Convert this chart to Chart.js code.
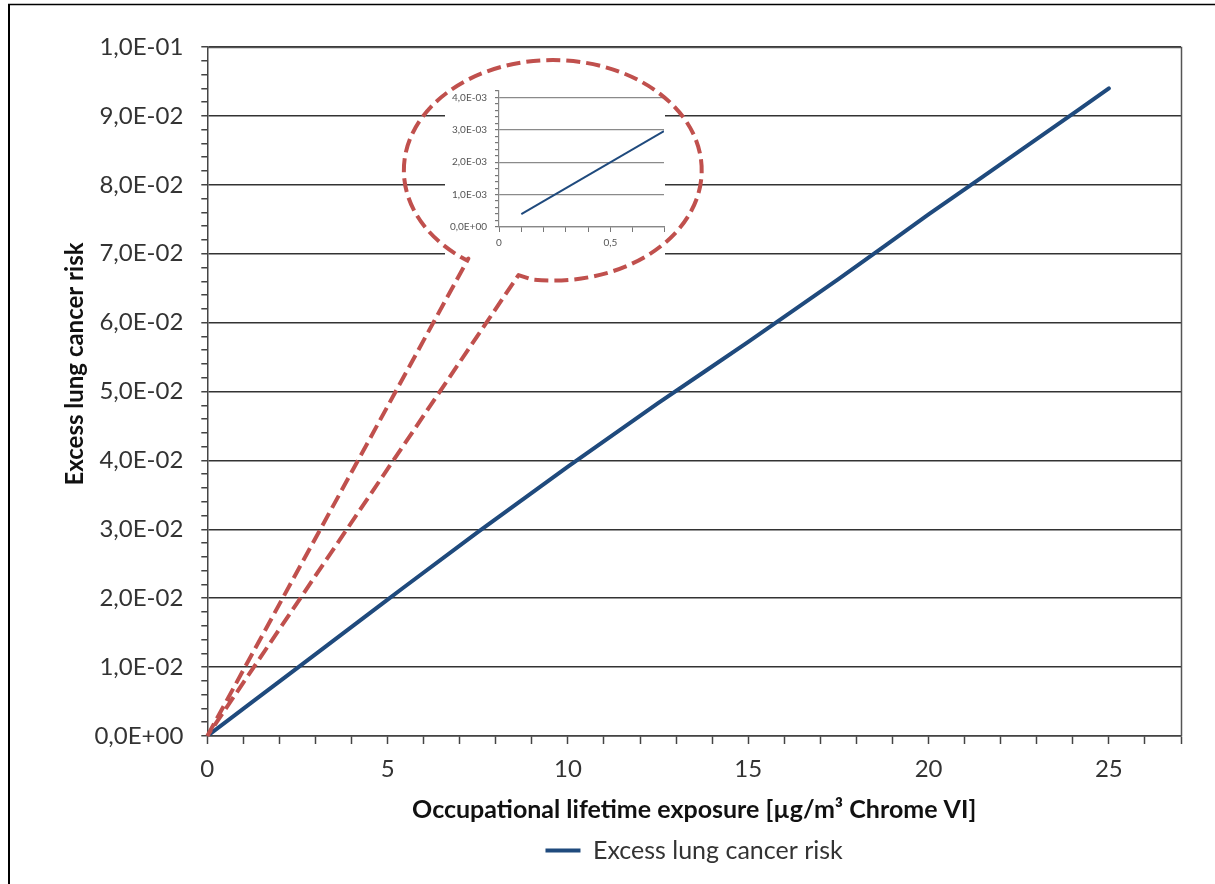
<!DOCTYPE html>
<html>
<head>
<meta charset="utf-8">
<script src="https://cdn.jsdelivr.net/npm/chart.js@4.4.1/dist/chart.umd.min.js"></script>
<style>
  html, body { margin: 0; padding: 0; background: #fff; }
  #wrap { position: relative; width: 1215px; height: 884px; }
  #wrap canvas { position: absolute; left: 0; top: 0; }
</style>
</head>
<body>
<div id="wrap">
  <canvas id="main" width="1215" height="884"></canvas>
  <canvas id="zoom" width="1215" height="884"></canvas>
</div>
<script>
// Excess lung cancer risk vs. occupational lifetime exposure to Cr(VI)
const exposure = [0, 2.5, 5, 7.5, 10, 12.5, 15, 17.5, 20, 22.5, 25];
const risk = [0, 0.0099, 0.0198, 0.0296, 0.0391, 0.0483, 0.0572, 0.0663, 0.0757, 0.0848, 0.0940];

const xTickLabels = ['0', '5', '10', '15', '20', '25'];
const yTickLabels = ['0,0E+00', '1,0E-02', '2,0E-02', '3,0E-02', '4,0E-02', '5,0E-02',
                     '6,0E-02', '7,0E-02', '8,0E-02', '9,0E-02', '1,0E-01'];

// Low-exposure detail shown in the callout
const zoomExposure = [0.1, 0.74];
const zoomRisk = [0.0004, 0.00296];
const zoomXTickLabels = ['0', '0,5'];
const zoomYTickLabels = ['0,0E+00', '1,0E-03', '2,0E-03', '3,0E-03', '4,0E-03'];

const seriesName = 'Excess lung cancer risk';
const xTitle = 'Occupational lifetime exposure [µg/m³ Chrome VI]';
const yTitle = 'Excess lung cancer risk';

const BLUE = '#1f4a7d';
const RED = '#c0504d';
const FONT = 'Lato, "Open Sans", sans-serif';

// Callout bubble, in data units of the main chart
const callout = {
  cx: 9.58, cy: 0.0821, rx: 4.13, ry: 0.0160,
  startAngle: 125.3, endAngle: 98,
  leftCorner: { x: 7.24, y: 0.0693 },
  rightCorner: { x: 8.63, y: 0.0669 }
};

function majorIndex(v, step) {
  const r = v / step;
  const n = Math.round(r);
  return Math.abs(r - n) < 1e-6 ? n : -1;
}

Chart.defaults.font.family = FONT;
Chart.defaults.color = '#333';

const framePlugin = {
  id: 'frame',
  beforeDraw(chart) {
    const ctx = chart.ctx;
    ctx.save();
    ctx.fillStyle = '#fff';
    ctx.fillRect(0, 0, chart.width, chart.height);
    ctx.strokeStyle = '#000';
    ctx.lineWidth = 1.5;
    ctx.beginPath();
    ctx.moveTo(8, 4.5);
    ctx.lineTo(chart.width, 4.5);
    ctx.stroke();
    ctx.lineWidth = 2;
    ctx.beginPath();
    ctx.moveTo(9, 4);
    ctx.lineTo(9, chart.height);
    ctx.stroke();
    ctx.restore();
  },
  beforeDatasetsDraw(chart) {
    const { ctx, chartArea: a } = chart;
    ctx.save();
    ctx.strokeStyle = '#555';
    ctx.lineWidth = 1.5;
    ctx.beginPath();
    ctx.moveTo(a.left, Math.round(a.top) + 0.5);
    ctx.lineTo(Math.round(a.right) + 0.5, Math.round(a.top) + 0.5);
    ctx.lineTo(Math.round(a.right) + 0.5, a.bottom);
    ctx.stroke();
    ctx.restore();
  },
  afterDraw(chart) {
    const ctx = chart.ctx;
    ctx.save();
    ctx.translate(75, 364);
    ctx.rotate(-Math.PI / 2);
    ctx.font = 'bold 24px ' + FONT;
    ctx.fillStyle = '#111';
    ctx.textAlign = 'center';
    ctx.textBaseline = 'middle';
    ctx.fillText(yTitle, 0, 0);
    ctx.restore();
  }
};

const main = new Chart(document.getElementById('main'), {
  type: 'line',
  data: {
    datasets: [{
      label: seriesName,
      data: exposure.map((x, i) => ({ x, y: risk[i] })),
      borderColor: BLUE,
      backgroundColor: BLUE,
      borderWidth: 4,
      pointRadius: 0,
      borderCapStyle: 'round',
      cubicInterpolationMode: 'monotone'
    }]
  },
  options: {
    responsive: false,
    animation: false,
    devicePixelRatio: 1,
    events: [],
    layout: { padding: { left: 10, top: 47, right: 34, bottom: 11 } },
    plugins: {
      tooltip: { enabled: false },
      legend: {
        position: 'bottom',
        fullSize: false,
        labels: {
          boxWidth: 35,
          boxHeight: 4,
          padding: 10,
          font: { size: 25 },
          color: '#333',
          generateLabels: () => [{
            text: seriesName, fillStyle: BLUE, strokeStyle: BLUE, lineWidth: 0,
            hidden: false, datasetIndex: 0, fontColor: '#333'
          }]
        }
      }
    },
    scales: {
      x: {
        type: 'linear',
        min: 0,
        max: 27,
        afterFit: s => { s.height = 92; },
        ticks: {
          stepSize: 1,
          autoSkip: false,
          maxRotation: 0,
          padding: 11,
          font: { size: 24 },
          color: '#333',
          callback: v => { const i = majorIndex(v, 5); return i >= 0 ? xTickLabels[i] : ''; }
        },
        grid: { drawOnChartArea: false, tickLength: 8, tickColor: '#444', tickWidth: 1.5 },
        border: { color: '#444', width: 1.5 },
        title: {
          display: true, text: xTitle, color: '#111',
          font: { size: 25, weight: 'bold' },
          padding: { top: 0, bottom: 3 }
        }
      },
      y: {
        type: 'linear',
        min: 0,
        max: 0.1,
        afterFit: s => { s.width = 197.3; },
        ticks: {
          stepSize: 0.002,
          maxTicksLimit: 1000,
          autoSkip: false,
          padding: 18,
          font: { size: 24 },
          color: '#333',
          callback: v => { const i = majorIndex(v, 0.01); return i >= 0 ? yTickLabels[i] : ''; }
        },
        grid: {
          color: c => (c.tick && majorIndex(c.tick.value, 0.01) >= 0) ? '#333' : 'rgba(0,0,0,0)',
          lineWidth: 1.5,
          tickLength: 6,
          tickColor: '#444',
          tickWidth: 1.5
        },
        border: { color: '#444', width: 1.5 }
      }
    }
  },
  plugins: [framePlugin]
});

const insetPlugin = {
  id: 'insetBackdrop',
  beforeDraw(chart) {
    const ctx = chart.ctx;
    ctx.save();
    ctx.fillStyle = '#fff';
    ctx.fillRect(445, 78, 220, 181);
    ctx.restore();
  },
  afterDraw(chart) {
    const ctx = chart.ctx;
    const xs = main.scales.x, ys = main.scales.y;
    const px = v => xs.getPixelForValue(v);
    const py = v => ys.getPixelForValue(v);
    const cx = px(callout.cx), cy = py(callout.cy);
    const rx = px(callout.cx + callout.rx) - cx;
    const ry = py(callout.cy) - py(callout.cy + callout.ry);
    const rad = d => d * Math.PI / 180;
    ctx.save();
    ctx.strokeStyle = RED;
    ctx.lineWidth = 4;
    ctx.setLineDash([14, 6]);
    ctx.lineJoin = 'round';
    ctx.beginPath();
    ctx.moveTo(px(0), py(0));
    ctx.lineTo(px(callout.leftCorner.x), py(callout.leftCorner.y));
    ctx.ellipse(cx, cy, rx, ry, 0, rad(callout.startAngle), rad(callout.endAngle + 360), false);
    ctx.lineTo(px(callout.rightCorner.x), py(callout.rightCorner.y));
    ctx.lineTo(px(0), py(0));
    ctx.stroke();
    ctx.restore();
  }
};

const inset = new Chart(document.getElementById('zoom'), {
  type: 'line',
  data: {
    datasets: [{
      data: zoomExposure.map((x, i) => ({ x, y: zoomRisk[i] })),
      borderColor: BLUE,
      borderWidth: 2,
      pointRadius: 0
    }]
  },
  options: {
    responsive: false,
    animation: false,
    devicePixelRatio: 1,
    events: [],
    layout: { padding: { left: 445, top: 91, right: 551, bottom: 626 } },
    plugins: { legend: { display: false }, tooltip: { enabled: false } },
    scales: {
      x: {
        type: 'linear',
        min: 0,
        max: 0.74,
        afterFit: s => { s.height = 31; },
        ticks: {
          stepSize: 0.1,
          autoSkip: false,
          maxRotation: 0,
          padding: 5,
          font: { size: 10 },
          color: '#555',
          callback: v => { const i = majorIndex(v, 0.5); return i >= 0 ? zoomXTickLabels[i] : ''; }
        },
        grid: { drawOnChartArea: false, tickLength: 5, tickColor: '#777' },
        border: { color: '#888', width: 1.2 }
      },
      y: {
        type: 'linear',
        min: 0,
        max: 0.0042,
        afterFit: s => { s.width = 54; },
        ticks: {
          stepSize: 0.0002,
          maxTicksLimit: 1000,
          autoSkip: false,
          padding: 8,
          font: { size: 10 },
          color: '#555',
          callback: v => { const i = majorIndex(v, 0.001); return i >= 0 ? zoomYTickLabels[i] : ''; }
        },
        grid: {
          color: c => (c.tick && majorIndex(c.tick.value, 0.001) >= 0) ? '#8a8a8a' : 'rgba(0,0,0,0)',
          lineWidth: 1.2,
          tickLength: 4,
          tickColor: '#777'
        },
        border: { color: '#888', width: 1.2 }
      }
    }
  },
  plugins: [insetPlugin]
});
</script>
</body>
</html>
